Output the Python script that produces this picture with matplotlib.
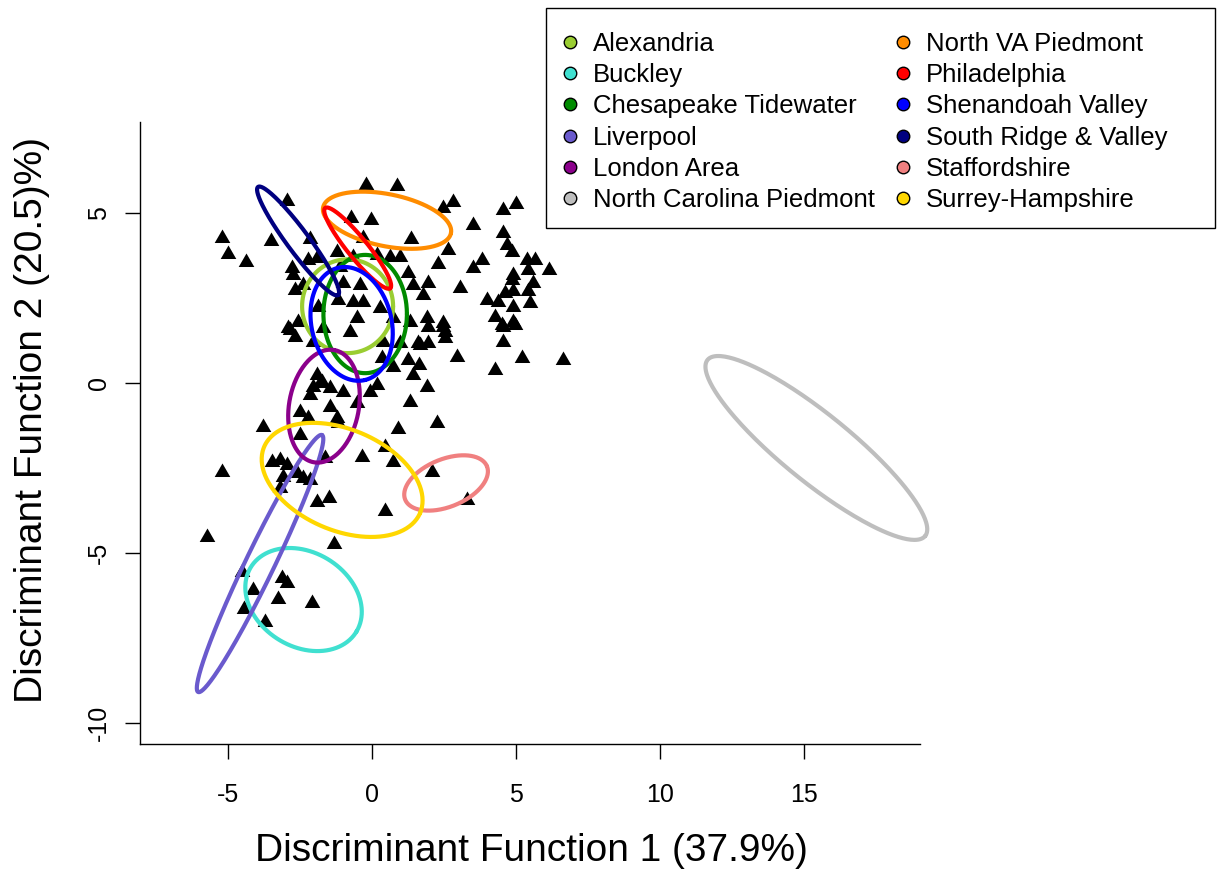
import numpy as np
import matplotlib
matplotlib.use("Agg")
import matplotlib.pyplot as plt
from matplotlib.path import Path
from matplotlib.lines import Line2D
from matplotlib.patches import Rectangle

plt.rcParams['font.family'] = ['Liberation Sans', 'DejaVu Sans']

# ---- data: discriminant scores (DF1, DF2) of individual specimens ----
df1 = [-5.21, -5.0, -4.38, -3.51, -2.95, -0.21, 0.87,
       -0.73, -0.03, -2.15, -1.22, -0.31, -1.91, -2.22, -2.78, -2.74, -2.67, -2.40,
       -0.66, 0.17, -1.01, -1.18, -0.66, -0.31, -0.52, 0.28, -1.88, -1.70, -2.57,
       -2.92, -0.76, -0.42, -1.11,
       2.47, 2.81, 4.55, 5.0, 3.51, 4.55, 1.35, 2.64, 4.69, 4.86, 0.63, 0.97, 2.29,
       3.51, 3.82, 1.25, 5.38, 5.66, 6.15, 5.42, 4.9, 4.86, 5.59, 1.42, 1.94, 3.06,
       1.77, 4.62, 4.9, 5.42, 3.99, 4.38, 4.9, 5.49, 4.27, 4.9, 4.51, 1.91, 2.47,
       1.32, 0.73, 2.53,
       -2.85, -2.67, -2.05, 0.35, -1.91, -1.74, -1.46, -1.01, -0.07, 0.17, -2.15,
       -0.52, -1.46, -2.5, -1.22, -1.18, -2.22, -3.78, -2.5, 0.45, -0.35, -1.63,
       -3.47, -3.19, -2.95, -2.6, -2.4, -2.15, -5.21,
       1.94, 2.47, 4.55, 4.97, 1.67, 1.94, 2.53, 4.55, 2.95, 5.21, 6.63, 4.27, 1.25,
       1.63, 0.73, 1.42, 1.91, 1.32, 0.9, 2.26, 0.73, 2.08, 0.38, 0.97, 1.6, -1.81,
       -2.05,
       -3.19, -1.91, -1.49, 0.45, -5.73, -1.32, 3.30, -4.51, -3.13, -2.95, -4.13,
       -3.26, -2.08, -4.44, -3.72, -3.09]
df2 = [4.26, 3.79, 3.56, 4.18, 5.35, 5.82, 5.79,
       4.85, 4.79, 4.24, 3.85, 4.26, 3.68, 3.62, 3.38, 3.18, 2.74, 2.88,
       3.71, 3.76, 2.94, 2.44, 2.38, 2.38, 1.91, 2.21, 2.24, 1.62, 1.79,
       1.62, 1.5, 2.88, 3.41,
       5.15, 5.32, 5.09, 5.26, 4.65, 4.41, 4.24, 3.91, 4.06, 3.85, 3.71, 3.71, 3.5,
       3.38, 3.62, 3.24, 3.62, 3.62, 3.32, 3.32, 3.18, 3.03, 2.94, 2.88, 2.94, 2.79,
       2.59, 2.65, 2.71, 2.71, 2.44, 2.38, 2.24, 2.35, 1.94, 1.79, 1.71, 1.91, 1.76,
       1.79, 1.91, 1.5,
       1.56, 1.35, 1.21, 0.74, 0.24, 0.03, -0.15, -0.26, -0.26, -0.06, -0.35,
       -0.59, -0.71, -0.85, -1.03, -1.18, -1.03, -1.29, -1.53, -1.88, -2.18, -2.21,
       -2.32, -2.26, -2.41, -2.65, -2.79, -2.85, -2.62,
       1.65, 1.65, 1.65, 1.71, 1.12, 1.18, 1.32, 1.21, 0.76, 0.74, 0.68, 0.38, 0.68,
       0.53, 0.47, 0.24, -0.12, -0.56, -1.35, -1.18, -2.32, -2.62, 1.21, 1.18, 1.18, 0.0,
       -0.12,
       -3.09, -3.5, -3.38, -3.76, -4.53, -4.74, -3.44, -5.56, -5.74, -5.88, -6.09,
       -6.35, -6.47, -6.65, -7.03, -2.76]

# ---- group ellipses: centre and two conjugate semi-diameters (data units) ----
groups = ['Alexandria', 'Buckley', 'Chesapeake Tidewater', 'Liverpool', 'London Area',
          'North Carolina Piedmont', 'North VA Piedmont', 'Philadelphia',
          'Shenandoah Valley', 'South Ridge & Valley', 'Staffordshire', 'Surrey-Hampshire']
colors = ['#9ACD32', '#40E0D0', '#008B00', '#6A5ACD', '#8B008B', '#BEBEBE',
          '#FF8C00', '#FF0000', '#0000FF', '#000080', '#F08080', '#FFD700']
ell_cx = [-0.85, -2.38, -0.24, -3.89, -1.67, 15.43, 0.52, -0.50, -0.71, -2.57, 2.57, -1.04]
ell_cy = [2.26, -6.37, 2.03, -5.31, -0.68, -1.91, 4.79, 3.97, 1.74, 4.18, -2.94, -2.85]
ell_ux = [1.58, 1.84, 1.45, 2.15, 0.36, 3.78, 2.22, 1.13, 0.47, 1.39, 1.42, 2.71]
ell_uy = [0.0, -0.94, 0.0, 3.78, 1.65, -2.59, -0.38, -1.18, -1.65, -1.59, 0.49, -0.97]
ell_vx = [0.0, 0.84, 0.0, 0.45, 1.19, 0.74, 0.18, 0.27, 1.35, 0.31, 0.31, 0.68]
ell_vy = [1.38, 1.19, 1.74, -0.18, -0.19, 0.78, 0.75, 0.19, 0.28, 0.19, -0.65, 1.37]

xticks = [-5, 0, 5, 10, 15]
yticks = [-10, -5, 0, 5]

W, H = 1222, 872
fig = plt.figure(figsize=(W / 100, H / 100), dpi=100)
ax = fig.add_axes([140 / W, 1 - 744 / H, 780 / W, 622 / H])
ax.set_xlim(-8.06, 19.03)
ax.set_ylim(-10.62, 7.68)

# equilateral triangle marker (R pch 17)
tri = Path([(-1, -0.577), (1, -0.577), (0, 1.155), (-1, -0.577)],
           [Path.MOVETO, Path.LINETO, Path.LINETO, Path.CLOSEPOLY])
ax.plot(df1, df2, linestyle='none', marker=tri, markersize=13,
        color='black', markeredgewidth=0, zorder=2)

t = np.linspace(0, 2 * np.pi, 300)
for i in range(len(groups)):
    ex = ell_cx[i] + ell_ux[i] * np.cos(t) + ell_vx[i] * np.sin(t)
    ey = ell_cy[i] + ell_uy[i] * np.cos(t) + ell_vy[i] * np.sin(t)
    ax.plot(ex, ey, color=colors[i], lw=3, zorder=3, solid_capstyle='round',
            clip_on=False)

for s in ['top', 'right']:
    ax.spines[s].set_visible(False)
for s in ['left', 'bottom']:
    ax.spines[s].set_linewidth(1.0)
ax.set_xticks(xticks)
ax.set_yticks(yticks)
ax.set_xticklabels([str(v) for v in xticks])
ax.set_yticklabels([str(v) for v in yticks], rotation=90, va='center')
ax.tick_params(axis='both', direction='out', length=11, width=1.0, labelsize=18)
ax.tick_params(axis='x', pad=17)
ax.tick_params(axis='y', pad=10)

fig.text(531 / W, 1 - 851 / H, 'Discriminant Function 1 (37.9%)', ha='center',
         va='center', fontsize=28)
fig.text(32 / W, 1 - 420 / H, 'Discriminant Function 2 (20.5)%)', ha='center',
         va='center', fontsize=28, rotation=90)

# legend box
fig.patches.append(Rectangle((546 / W, 1 - 228 / H), 669 / W, 220 / H,
                             transform=fig.transFigure, fill=False, edgecolor='black',
                             lw=1.0))
handles = [Line2D([], [], linestyle='none', marker='o', markersize=9,
                  markerfacecolor=c, markeredgecolor='black', markeredgewidth=1.0)
           for c in colors]
fig.legend(handles, groups, ncol=2, loc='upper left',
           bbox_to_anchor=(560 / W, 1 - 32 / H), frameon=False, fontsize=18.5,
           handlelength=0.8, handletextpad=0.47, labelspacing=0.28,
           columnspacing=0.72, borderpad=0, borderaxespad=0)

fig.savefig('out.png', dpi=100)
